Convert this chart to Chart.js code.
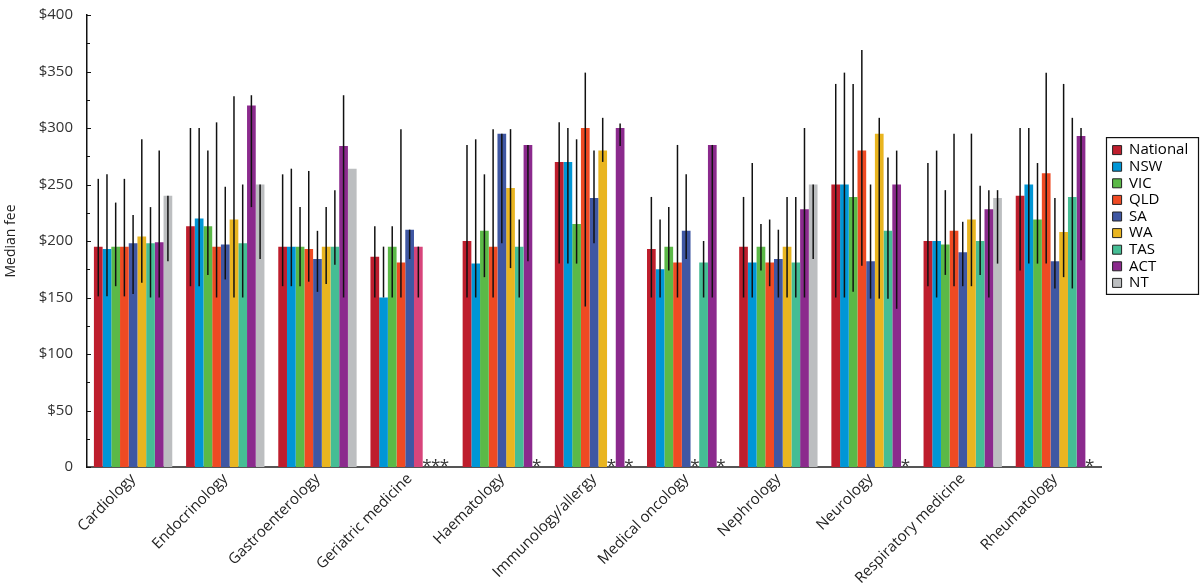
<!DOCTYPE html>
<html lang="en">
<head>
  <meta charset="UTF-8" />
  <title>Median fee by specialty and state</title>
  <script src="https://cdn.jsdelivr.net/npm/chart.js"></script>
  <style>
    html, body { margin: 0; padding: 0; background: #fff; }
    .chart-wrap { width: 1200px; height: 588px; }
  </style>
</head>
<body>

  <div class="chart-wrap">
    <canvas id="feeChart" width="1200" height="588"></canvas>
  </div>

  <script>
    // categories
    const specialties = ['Cardiology', 'Endocrinology', 'Gastroenterology', 'Geriatric medicine', 'Haematology',
      'Immunology/allergy', 'Medical oncology', 'Nephrology', 'Neurology', 'Respiratory medicine', 'Rheumatology'];

    // median fee per state (null = not reported, shown as *)
    const national = [195, 213, 195, 186, 200, 270, 193, 195, 250, 200, 240];
    const nsw      = [193, 220, 195, 150, 180, 270, 175, 181, 250, 200, 250];
    const vic      = [195, 213, 195, 195, 209, 215, 195, 195, 239, 197, 219];
    const qld      = [195, 195, 193, 181, 195, 300, 181, 181, 280, 209, 260];
    const sa       = [198, 197, 184, 210, 295, 238, 209, 184, 182, 190, 182];
    const wa       = [204, 219, 195, 195, 247, 280, null, 195, 295, 219, 208];
    const tas      = [198, 198, 195, null, 195, null, 181, 181, 209, 200, 239];
    const act      = [199, 320, 284, null, 285, 300, 285, 228, 250, 228, 293];
    const nt       = [240, 250, 264, null, null, null, null, 250, null, 238, null];

    // error bars: low / high
    const nationalLo = [151, 160, 160, 150, 150, 180, 150, 150, 150, 160, 174];
    const nationalHi = [255, 300, 259, 213, 285, 305, 239, 239, 339, 269, 300];
    const nswLo = [151, 160, 160, 150, 150, 180, 150, 150, 150, 150, 180];
    const nswHi = [259, 300, 264, 195, 290, 300, 219, 269, 349, 280, 300];
    const vicLo = [160, 170, 160, 150, 168, 180, 174, 174, 155, 170, 180];
    const vicHi = [234, 280, 230, 213, 259, 290, 230, 215, 339, 245, 269];
    const qldLo = [151, 150, 164, 150, 150, 142, 150, 160, 178, 160, 180];
    const qldHi = [255, 305, 262, 299, 299, 349, 285, 219, 369, 295, 349];
    const saLo = [153, 166, 155, 184, 198, 198, 184, 150, 149, 160, 158];
    const saHi = [223, 248, 209, 210, 295, 280, 259, 210, 250, 217, 238];
    const waLo = [163, 150, 162, 150, 176, 270, null, 150, 149, 160, 168];
    const waHi = [290, 328, 230, 195, 299, 309, null, 239, 309, 295, 339];
    const tasLo = [150, 150, 179, null, 150, null, 150, 150, 149, 170, 158];
    const tasHi = [230, 250, 245, null, 219, null, 200, 239, 274, 249, 309];
    const actLo = [150, 230, 150, null, 182, 284, 150, 150, 140, 150, 183];
    const actHi = [280, 329, 329, null, 285, 304, 285, 300, 280, 245, 300];
    const ntLo = [182, 184, null, null, null, null, null, 184, null, 180, null];
    const ntHi = [240, 250, null, null, null, null, null, 250, null, 245, null];

    const FONT = "'Open Sans', sans-serif";

    function series(label, data, lo, hi, color) {
      return { label, data, errLo: lo, errHi: hi, backgroundColor: color, borderWidth: 0 };
    }

    // the geriatric medicine WA bar is drawn pink in the original
    const waColors = wa.map((v, i) => i === 3 ? '#d8457b' : '#e9b520');

    const datasets = [
      series('National', national, nationalLo, nationalHi, '#be1e2d'),
      series('NSW', nsw, nswLo, nswHi, '#0096d6'),
      series('VIC', vic, vicLo, vicHi, '#5bb947'),
      series('QLD', qld, qldLo, qldHi, '#ef4a23'),
      series('SA', sa, saLo, saHi, '#3f57a3'),
      series('WA', wa, waLo, waHi, waColors),
      series('TAS', tas, tasLo, tasHi, '#45bd94'),
      series('ACT', act, actLo, actHi, '#8b2a8d'),
      series('NT', nt, ntLo, ntHi, '#bcbec0')
    ];
    const legendColors = ['#be1e2d', '#0096d6', '#5bb947', '#ef4a23', '#3f57a3', '#e9b520', '#45bd94', '#8b2a8d', '#bcbec0'];

    // error bars, asterisks, inward ticks, legend frame
    const extras = {
      id: 'extras',
      afterLayout(chart) {
        const lg = chart.legend;
        const w = lg.width, h = lg.height;
        lg.left = 1111; lg.right = lg.left + w;
        lg.top = 141; lg.bottom = lg.top + h;
      },
      afterDatasetsDraw(chart) {
        const ctx = chart.ctx;
        const y = chart.scales.y;
        ctx.save();
        ctx.strokeStyle = '#111';
        ctx.lineWidth = 1.5;
        chart.data.datasets.forEach((ds, di) => {
          const meta = chart.getDatasetMeta(di);
          meta.data.forEach((bar, i) => {
            if (ds.errLo[i] == null || ds.errHi[i] == null) return;
            ctx.beginPath();
            ctx.moveTo(bar.x, y.getPixelForValue(ds.errLo[i]));
            ctx.lineTo(bar.x, y.getPixelForValue(ds.errHi[i]));
            ctx.stroke();
          });
        });
        // asterisks for missing values
        ctx.fillStyle = '#333';
        ctx.font = '17px ' + FONT;
        ctx.textAlign = 'center';
        ctx.textBaseline = 'alphabetic';
        chart.data.datasets.forEach((ds, di) => {
          const meta = chart.getDatasetMeta(di);
          meta.data.forEach((bar, i) => {
            if (ds.data[i] == null) ctx.fillText('*', bar.x, y.getPixelForValue(0) + 4);
          });
        });
        ctx.restore();
      },
      afterDraw(chart) {
        const ctx = chart.ctx;
        const y = chart.scales.y;
        const left = chart.chartArea.left;
        ctx.save();
        ctx.strokeStyle = '#111';
        ctx.lineWidth = 1;
        y.ticks.forEach(t => {
          const py = Math.round(y.getPixelForValue(t.value)) + 0.5;
          const len = t.value % 50 === 0 ? 4 : 3;
          ctx.beginPath();
          ctx.moveTo(left, py);
          ctx.lineTo(left + len, py);
          ctx.stroke();
        });
        // frame round the legend
        const lg = chart.legend;
        const boxes = lg.legendHitBoxes;
        if (boxes && boxes.length) {
          const top = boxes[0].top - 5;
          const bottom = boxes[boxes.length - 1].top + boxes[boxes.length - 1].height + 4;
          ctx.strokeStyle = '#111';
          ctx.lineWidth = 1.2;
          ctx.strokeRect(1106.5, top, 92, bottom - top);
        }
        ctx.restore();
      }
    };

    new Chart(document.getElementById('feeChart'), {
      type: 'bar',
      data: { labels: specialties, datasets },
      options: {
        responsive: false,
        animation: false,
        layout: { padding: { top: 10, right: 99, left: 0, bottom: 0 } },
        datasets: { bar: { categoryPercentage: 0.85, barPercentage: 1.0 } },
        plugins: {
          tooltip: { enabled: false },
          legend: {
            position: 'chartArea',
            align: 'start',
            labels: {
              color: '#222',
              font: { family: FONT, size: 15 },
              boxWidth: 9,
              boxHeight: 9,
              padding: 1.6,
              generateLabels: chart => chart.data.datasets.map((ds, i) => ({
                text: ds.label,
                fillStyle: legendColors[i],
                strokeStyle: '#222',
                lineWidth: 1,
                hidden: false,
                datasetIndex: i
              }))
            }
          }
        },
        scales: {
          x: {
            grid: { display: false, drawTicks: false, tickLength: 0 },
            border: { display: true, color: '#555', width: 2 },
            ticks: {
              color: '#222',
              font: { family: FONT, size: 15 },
              minRotation: 45,
              maxRotation: 45,
              autoSkip: false,
              padding: 3
            },
            afterFit: s => { s.height = 121; }
          },
          y: {
            min: 0,
            max: 400,
            grid: { display: false },
            border: { display: true, color: '#111', width: 1.5 },
            ticks: {
              stepSize: 25,
              autoSkip: false,
              color: '#333',
              padding: 6,
              font: { family: FONT, size: 15 },
              callback: v => v % 50 !== 0 ? '' : (v === 0 ? '0' : '$' + v)
            },
            title: {
              display: true,
              text: 'Median fee',
              color: '#222',
              font: { family: FONT, size: 14 },
              padding: { top: 3, bottom: 4 }
            },
            afterFit: s => { s.width = 87; }
          }
        }
      },
      plugins: [extras]
    });
  </script>

</body>
</html>
